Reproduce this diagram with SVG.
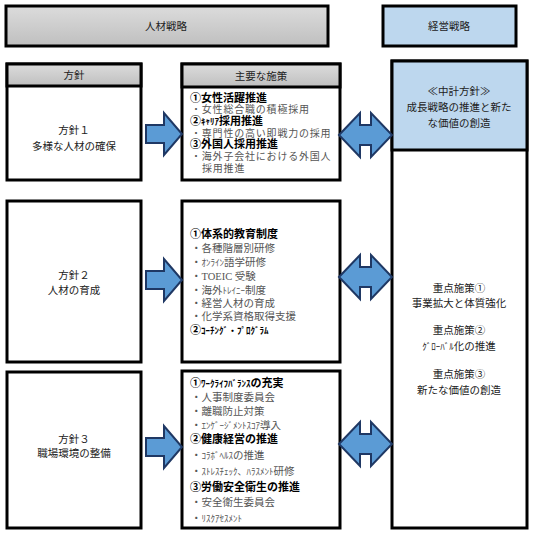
<svg xmlns="http://www.w3.org/2000/svg" width="533" height="535" viewBox="0 0 533 535">
<defs>
<linearGradient id="gray" x1="0" y1="0" x2="0" y2="1">
<stop offset="0" stop-color="#dcdcdc"/>
<stop offset="1" stop-color="#bfbfbf"/>
</linearGradient>
<path id="arr" d="M0,-9 H18 V-21 L36,0 L18,21 V9 H0 Z"/>
<path id="darr" d="M0,0 L21,-22 V-10 H32 V-22 L53,0 L32,22 V10 H21 V22 Z"/>
</defs>
<style>
.box{fill:#fff;stroke:#000;stroke-width:3}
.hd{fill:url(#gray);stroke:#000;stroke-width:3}
.bl{fill:#bdd7ee;stroke:#000;stroke-width:3}
.ar{fill:#5b9bd5;stroke:#1f3864;stroke-width:2;stroke-linejoin:miter}
text{font-family:"Liberation Serif","Noto Sans CJK JP",serif;font-size:10.5px;fill:#222}
.c{text-anchor:middle}
.b{font-weight:bold;font-size:11px;fill:#000}
.g{fill:#555}
.r1{font-size:10px;letter-spacing:0.8px}
.s{font-size:9px;letter-spacing:0}
</style>
<rect width="533" height="535" fill="#fff"/>

<g id="header-jinzai">
<rect class="hd" x="6" y="6" width="322" height="40"/>
<text class="c" x="166" y="30">人材戦略</text>
</g>
<g id="header-keiei">
<rect class="bl" x="383" y="6" width="133" height="40"/>
<text class="c" x="449" y="30">経営戦略</text>
</g>

<g id="policy1">
<rect class="box" x="7" y="64" width="134" height="116"/>
<rect class="hd" x="7" y="64" width="134" height="22"/>
<text class="c" x="74" y="79">方針</text>
<text class="c" x="74" y="134">方針１</text>
<text class="c" x="74" y="150">多様な人材の確保</text>
</g>
<g id="measures1">
<rect class="box" x="182" y="64" width="158" height="116"/>
<rect class="hd" x="182" y="64" width="158" height="23"/>
<text class="c" x="261" y="80">主要な施策</text>
<text class="b" x="190" y="102">①女性活躍推進</text>
<text class="g r1" x="191" y="113">・女性総合職の積極採用</text>
<text class="b" x="190" y="125">②<tspan class="s">ｷｬﾘｱ</tspan>採用推進</text>
<text class="g r1" x="191" y="137">・専門性の高い即戦力の採用</text>
<text class="b" x="190" y="148">③外国人採用推進</text>
<text class="g r1" x="191" y="160">・海外子会社における外国人</text>
<text class="g r1" x="202" y="172">採用推進</text>
</g>

<g id="policy2">
<rect class="box" x="7" y="201" width="134" height="161"/>
<text class="c" x="74" y="279">方針２</text>
<text class="c" x="74" y="294">人材の育成</text>
</g>
<g id="measures2">
<rect class="box" x="182" y="201" width="158" height="161"/>
<text class="b" x="190" y="238">①体系的教育制度</text>
<text class="g" x="191" y="252">・各種階層別研修</text>
<text class="g" x="191" y="266">・<tspan class="s">ｵﾝﾗｲﾝ</tspan>語学研修</text>
<text class="g" x="191" y="280">・TOEIC 受験</text>
<text class="g" x="191" y="294">・海外<tspan class="s">ﾄﾚｲﾆｰ</tspan>制度</text>
<text class="g" x="191" y="307">・経営人材の育成</text>
<text class="g" x="191" y="320">・化学系資格取得支援</text>
<text class="b" x="190" y="334">②<tspan class="s">ｺｰﾁﾝｸﾞ・ﾌﾟﾛｸﾞﾗﾑ</tspan></text>
</g>

<g id="policy3">
<rect class="box" x="7" y="372" width="134" height="156"/>
<text class="c" x="74" y="443">方針３</text>
<text class="c" x="74" y="457">職場環境の整備</text>
</g>
<g id="measures3">
<rect class="box" x="182" y="371" width="158" height="157"/>
<text class="b" x="190" y="387">①<tspan class="s">ﾜｰｸﾗｲﾌﾊﾞﾗﾝｽ</tspan>の充実</text>
<text class="g" x="191" y="401">・人事制度委員会</text>
<text class="g" x="191" y="415">・離職防止対策</text>
<text class="g" x="191" y="429">・<tspan class="s">ｴﾝｹﾞｰｼﾞﾒﾝﾄｽｺｱ</tspan>導入</text>
<text class="b" x="190" y="443">②健康経営の推進</text>
<text class="g" x="191" y="459">・<tspan class="s">ｺﾗﾎﾞﾍﾙｽ</tspan>の推進</text>
<text class="g" x="191" y="475">・<tspan class="s">ｽﾄﾚｽﾁｪｯｸ、ﾊﾗｽﾒﾝﾄ</tspan>研修</text>
<text class="b" x="190" y="491">③労働安全衛生の推進</text>
<text class="g" x="191" y="506">・安全衛生委員会</text>
<text class="g" x="191" y="522">・<tspan class="s">ﾘｽｸｱｾｽﾒﾝﾄ</tspan></text>
</g>

<g id="strategy">
<rect class="box" x="392" y="61" width="135" height="467"/>
<rect class="bl" x="392" y="61" width="135" height="89"/>
<text class="c" x="459" y="95">≪中計方針≫</text>
<text class="c" x="459" y="111">成長戦略の推進と新た</text>
<text class="c" x="459" y="127">な価値の創造</text>
<text class="c" x="459" y="292">重点施策①</text>
<text class="c" x="459" y="307">事業拡大と体質強化</text>
<text class="c" x="459" y="334">重点施策②</text>
<text class="c" x="459" y="350"><tspan class="s">ｸﾞﾛｰﾊﾞﾙ</tspan>化の推進</text>
<text class="c" x="459" y="378">重点施策③</text>
<text class="c" x="459" y="394">新たな価値の創造</text>
</g>

<g id="connectors">
<use href="#arr" class="ar" x="146" y="134"/>
<use href="#arr" class="ar" x="146" y="280"/>
<use href="#arr" class="ar" x="146" y="447"/>
<use href="#darr" class="ar" x="339" y="135"/>
<use href="#darr" class="ar" x="339" y="277"/>
<use href="#darr" class="ar" x="339" y="444"/>
</g>
</svg>
